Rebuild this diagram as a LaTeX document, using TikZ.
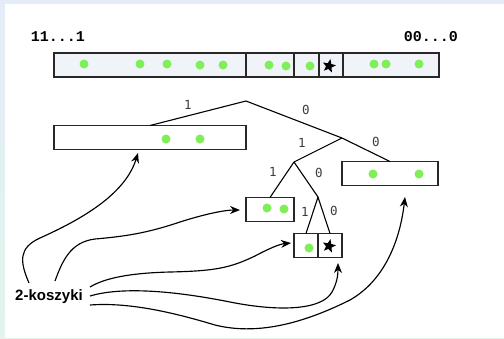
\documentclass[tikz,border=0pt]{standalone}
\usepackage{fontspec}
\setmainfont{Liberation Sans}
\newfontfamily\bitsfont{Liberation Mono}
\newfontfamily\edgefont{DejaVu Sans Mono}
\usetikzlibrary{arrows.meta,shapes.geometric}

\definecolor{frameblue}{RGB}{228,236,247}
\definecolor{framegreen}{RGB}{226,244,236}
\definecolor{barfill}{RGB}{240,244,248}
\definecolor{boxline}{RGB}{40,40,40}
\definecolor{dotgreen}{RGB}{128,238,88}
\definecolor{edgetext}{RGB}{60,60,60}

\begin{document}
\begin{tikzpicture}[x=1pt,y=-1pt,
  bucket/.style={draw=boxline, line width=1.1pt, minimum height=24pt, inner sep=0pt, outer sep=0pt},
  seg/.style={bucket, fill=barfill},
  dot/.style={circle, fill=dotgreen, minimum size=9pt, inner sep=0pt},
  starmark/.style={star, star points=5, star point ratio=2.3, fill=black, minimum size=14pt, inner sep=0pt, rotate=-12},
  branch/.style={line width=1.1pt, draw=black},
  bit/.style={font=\edgefont\fontsize{12.5}{12.5}\selectfont, text=edgetext, inner sep=0pt},
  ptr/.style={line width=1.15pt, -{Stealth[length=10pt,width=8pt]}},
  endlabel/.style={font=\bitsfont\bfseries\fontsize{15}{15}\selectfont, inner sep=0pt}
]
\useasboundingbox (0,0) rectangle (504,338);
\shade[top color=frameblue, bottom color=framegreen] (0,0) rectangle (504,338);
\fill[white] (5,4) rectangle (504,338);

% address range labels
\node[endlabel] (hi) at (58,37) {11...1};
\node[endlabel] (lo) at (431,37) {00...0};

% the address bar split into buckets
\node[seg, minimum width=192pt] (a1) at (150,65) {};
\node[seg, minimum width=48pt]  (a2) at (270,65) {};
\node[seg, minimum width=25pt]  (a3) at (306.5,65) {};
\node[seg, minimum width=24pt]  (a4) at (331,65) {};
\node[seg, minimum width=96pt]  (a5) at (391,65) {};
\foreach \x/\y in {84/64,140/64,167/64,200/65,223/65,269/65,286/66,310/66,374/64,386/64,419/64}
  \node[dot] at (\x,\y) {};
\node[starmark] (sa) at (329,66) {};

% trie buckets
\node[bucket, minimum width=192pt] (L) at (150,137.5) {};
\node[bucket, minimum width=96pt]  (R) at (390,173.5) {};
\node[bucket, minimum width=48pt]  (S) at (270,209.5) {};
\node[bucket, minimum width=24pt]  (B1) at (306,245.5) {};
\node[bucket, minimum width=24pt]  (B2) at (330,245.5) {};
\node[dot] at (166,139) {};
\node[dot] at (200,139) {};
\node[dot] at (373,174) {};
\node[dot] at (419,174) {};
\node[dot] at (267,208) {};
\node[dot] at (284,209) {};
\node[dot] at (309,248) {};
\node[starmark] (sb) at (329,246) {};

% trie branches
\coordinate (r)  at (246,101);
\coordinate (n1) at (342,138);
\coordinate (n2) at (294,162);
\coordinate (n3) at (318,197);
\draw[branch] (L.north) -- (r) -- (n1) -- (R.north);
\draw[branch] (n1) -- (n2) -- (S.north);
\draw[branch] (n2) -- (n3) -- (B1.north);
\draw[branch] (n3) -- (B2.north);
\node[bit] at (188,105) {1};
\node[bit] at (306,110) {0};
\node[bit] at (302,143) {1};
\node[bit] at (376,142) {0};
\node[bit] at (273,172) {1};
\node[bit] at (319,173) {0};
\node[bit] at (305,212) {1};
\node[bit] at (334,211) {0};

% caption and its pointers
\node[font=\bfseries\fontsize{15}{15}\selectfont, inner sep=0pt] (k) at (49,297) {2-koszyki};
\coordinate (k1) at (29,283);
\coordinate (k2) at (55,281);
\coordinate (k3) at (90,287);
\coordinate (k4) at (90,296);
\coordinate (k5) at (90,305);
\coordinate (t1) at (138,153);
\coordinate (t2) at (240,210);
\coordinate (t3) at (291,243);
\coordinate (t4) at (338,263);
\coordinate (t5) at (405,197);
\draw[ptr] (k1) .. controls (20,262) and (18,248) .. (40,238)
               .. controls (80,220) and (125,195) .. (t1);
\draw[ptr] (k2) .. controls (62,262) and (70,242) .. (95,239)
               .. controls (130,236) and (150,232) .. (180,222)
               .. controls (205,214) and (225,210) .. (t2);
\draw[ptr] (k3) .. controls (105,278) and (130,273) .. (170,272)
               .. controls (215,271) and (230,268) .. (255,256)
               .. controls (270,248) and (280,244) .. (t3);
\draw[ptr] (k4) .. controls (120,287) and (170,290) .. (230,302)
               .. controls (280,312) and (322,310) .. (332,292)
               .. controls (337,283) and (338,275) .. (t4);
\draw[ptr] (k5) .. controls (130,302) and (175,313) .. (215,325)
               .. controls (255,335) and (300,325) .. (350,300)
               .. controls (385,280) and (400,240) .. (t5);
\end{tikzpicture}
\end{document}
